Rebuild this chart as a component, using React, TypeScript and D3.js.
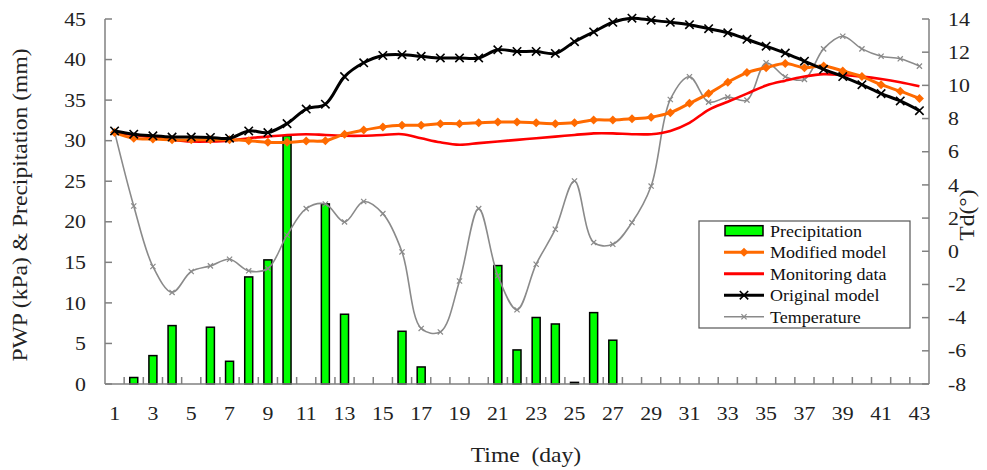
import React from "react";
import * as d3 from "d3";

const days = [1,2,3,4,5,6,7,8,9,10,11,12,13,14,15,16,17,18,19,20,21,22,23,24,25,26,27,28,29,30,31,32,33,34,35,36,37,38,39,40,41,42,43];
const precipitation = [0,0.8,3.5,7.2,0,7.0,2.8,13.2,15.3,30.6,0,22.2,8.6,0,0,6.5,2.1,0,0,0,14.6,4.2,8.2,7.4,0.2,8.8,5.4,0,0,0,0,0,0,0,0,0,0,0,0,0,0,0,0];
const originalModel = [31.2,30.8,30.6,30.45,30.45,30.4,30.3,31.2,31.0,32.1,33.9,34.5,37.9,39.6,40.5,40.6,40.4,40.2,40.2,40.2,41.2,41.0,41.0,40.75,42.2,43.4,44.6,45.1,44.85,44.6,44.3,43.8,43.3,42.5,41.65,40.8,39.8,38.8,37.9,36.9,35.8,34.9,33.7];
const modifiedModel = [31.0,30.3,30.2,30.1,30.1,30.1,30.1,30.0,29.8,29.8,29.95,30.0,30.8,31.3,31.7,31.9,31.9,32.1,32.1,32.2,32.3,32.3,32.2,32.1,32.2,32.55,32.55,32.7,32.9,33.45,34.6,35.8,37.2,38.4,39.0,39.5,39.0,39.2,38.6,37.9,36.9,36.1,35.2];
const monitoringData = [31.0,30.7,30.4,30.1,29.9,29.9,30.0,30.3,30.5,30.7,30.8,30.7,30.6,30.6,30.7,30.8,30.3,29.8,29.5,29.7,29.9,30.1,30.3,30.5,30.7,30.9,30.9,30.8,30.8,31.2,32.2,33.8,34.8,35.8,36.8,37.4,37.9,38.2,38.1,37.9,37.6,37.2,36.7];
const temperature = [7.2,2.73,-0.92,-2.48,-1.22,-0.88,-0.48,-1.18,-1.04,0.97,2.57,2.85,1.77,3.0,2.27,-0.04,-4.65,-4.86,-1.79,2.57,-1.48,-3.53,-0.78,1.33,4.24,0.53,0.42,1.73,3.93,9.15,10.52,8.99,9.29,9.11,11.36,10.52,10.36,12.2,12.96,12.2,11.76,11.6,11.16];
const leftTicks = [0,5,10,15,20,25,30,35,40,45];
const rightTicks = [-8,-6,-4,-2,0,2,4,6,8,10,12,14];
const xLabels = [1,3,5,7,9,11,13,15,17,19,21,23,25,27,29,31,33,35,37,39,41,43];
const legendItems = ["Precipitation","Modified model","Monitoring data","Original model","Temperature"];

const W = 987, H = 470;
const L = 105, R = 929, T = 19, B = 384;
const FONT = "'Liberation Serif', 'Times New Roman', serif";
const SX = 1.15;

const xScale = d3.scaleBand<number>().domain(days).range([L, R]).padding(0);
const yL = d3.scaleLinear().domain([0, 45]).range([B, T]);
const yR = d3.scaleLinear().domain([-8, 14]).range([B, T]);
const cx = (d: number) => (xScale(d) as number) + xScale.bandwidth() / 2;

const lineL = (vals: number[]) =>
  d3.line<number>().x((_, i) => cx(days[i])).y((v) => yL(v)).curve(d3.curveCatmullRom.alpha(0.5))(vals) as string;
const lineR = (vals: number[]) =>
  d3.line<number>().x((_, i) => cx(days[i])).y((v) => yR(v)).curve(d3.curveCatmullRom.alpha(0.5))(vals) as string;

const xMark = (s: number) => `M${-s},${-s}L${s},${s}M${-s},${s}L${s},${-s}`;
const diamond = (s: number) => `M0,${-s}L${s},0L0,${s}L${-s},0Z`;

const ORANGE = "#ff6a00";
const GRAY = "#8a8a8a";

export default function App() {
  const bw = 8;
  const boundaries = days.slice(0, days.length - 1).map((d) => (xScale(d) as number) + xScale.bandwidth());
  const legX = 699, legY = 221, legW = 211, legH = 107;
  const rowY = (i: number) => 230.7 + i * 21.5;
  return (
    <svg width={W} height={H} style={{ position: "absolute", left: 0, top: 0, background: "#fff" }} fontFamily={FONT}>
      {precipitation.map((v, i) =>
        v > 0 ? (
          <rect key={"b" + i} x={cx(days[i]) - bw / 2} y={yL(v)} width={bw} height={B - yL(v)}
            fill="#00ff00" stroke="#000" strokeWidth={1.5} />
        ) : null
      )}
      <path d={lineR(temperature)} fill="none" stroke={GRAY} strokeWidth={1.6} />
      {temperature.map((v, i) => (
        <path key={"t" + i} d={xMark(2.6)} transform={`translate(${cx(days[i])},${yR(v)})`} stroke={GRAY} strokeWidth={1.2} fill="none" />
      ))}
      <path d={lineL(monitoringData)} fill="none" stroke="#ff0000" strokeWidth={2.6} />
      <path d={lineL(modifiedModel)} fill="none" stroke={ORANGE} strokeWidth={3} />
      {modifiedModel.map((v, i) => (
        <path key={"m" + i} d={diamond(4.5)} transform={`translate(${cx(days[i])},${yL(v)})`} fill={ORANGE} />
      ))}
      <path d={lineL(originalModel)} fill="none" stroke="#000" strokeWidth={3} />
      {originalModel.map((v, i) => (
        <path key={"o" + i} d={xMark(4.2)} transform={`translate(${cx(days[i])},${yL(v)})`} stroke="#000" strokeWidth={1.6} fill="none" />
      ))}

      <g stroke="#808080" strokeWidth={1.5} fill="none">
        <line x1={L} y1={T} x2={L} y2={B} />
        <line x1={R} y1={T} x2={R} y2={B} />
        <line x1={L} y1={B} x2={R} y2={B} />
        {leftTicks.map((t) => (
          <line key={"lt" + t} x1={L} x2={L + 7} y1={yL(t)} y2={yL(t)} />
        ))}
        {rightTicks.map((t) => (
          <line key={"rt" + t} x1={R - 7} x2={R} y1={yR(t)} y2={yR(t)} />
        ))}
        {boundaries.map((bx, i) => (
          <line key={"xt" + i} x1={bx} x2={bx} y1={B} y2={B - 7} />
        ))}
      </g>
      <g fontSize={19} fill="#222">
        {leftTicks.map((t) => (
          <text key={"ll" + t} transform={`translate(86,${yL(t)}) scale(${SX},1)`} dy="0.35em" textAnchor="end">{t}</text>
        ))}
        {rightTicks.map((t) => (
          <text key={"rl" + t} transform={`translate(948,${yR(t)}) scale(${SX},1)`} dy="0.35em" textAnchor="start">{t}</text>
        ))}
        {xLabels.map((d) => (
          <text key={"xl" + d} transform={`translate(${cx(d)},413) scale(${SX},1)`} dy="0.35em" textAnchor="middle">{d}</text>
        ))}
      </g>
      <text transform={`translate(526,462) scale(${SX},1)`} fontSize={20.5} textAnchor="middle" fill="#222" style={{ whiteSpace: "pre" }}>{"Time  (day)"}</text>
      <text transform={`translate(27,205) rotate(-90) scale(${SX},1)`} fontSize={20.5} textAnchor="middle" fill="#222">PWP (kPa) &amp; Precipitation (mm)</text>
      <text transform={`translate(974,215) rotate(-90) scale(${SX},1)`} fontSize={20.5} textAnchor="middle" fill="#222">Td(°)</text>

      <rect x={legX} y={legY} width={legW} height={legH} fill="#fff" stroke="#555" strokeWidth={1.2} />
      {legendItems.map((name, i) => {
        const y = rowY(i);
        let sym: React.ReactNode = null;
        if (i === 0) sym = <rect x={725} y={y - 5} width={38} height={10} fill="#00ff00" stroke="#000" strokeWidth={1.5} />;
        if (i === 1) sym = (<g><line x1={724} x2={764} y1={y} y2={y} stroke={ORANGE} strokeWidth={3} /><path d={diamond(4.5)} transform={`translate(744,${y})`} fill={ORANGE} /></g>);
        if (i === 2) sym = <line x1={724} x2={764} y1={y} y2={y} stroke="#ff0000" strokeWidth={3} />;
        if (i === 3) sym = (<g><line x1={724} x2={764} y1={y} y2={y} stroke="#000" strokeWidth={3} /><path d={xMark(4.2)} transform={`translate(744,${y})`} stroke="#000" strokeWidth={1.6} /></g>);
        if (i === 4) sym = (<g><line x1={724} x2={764} y1={y} y2={y} stroke={GRAY} strokeWidth={1.6} /><path d={xMark(2.6)} transform={`translate(744,${y})`} stroke={GRAY} strokeWidth={1.2} /></g>);
        return (
          <g key={"lg" + i}>
            {sym}
            <text transform={`translate(770,${y}) scale(1.06,1)`} dy="0.35em" fontSize={17} fill="#111">{name}</text>
          </g>
        );
      })}
    </svg>
  );
}
